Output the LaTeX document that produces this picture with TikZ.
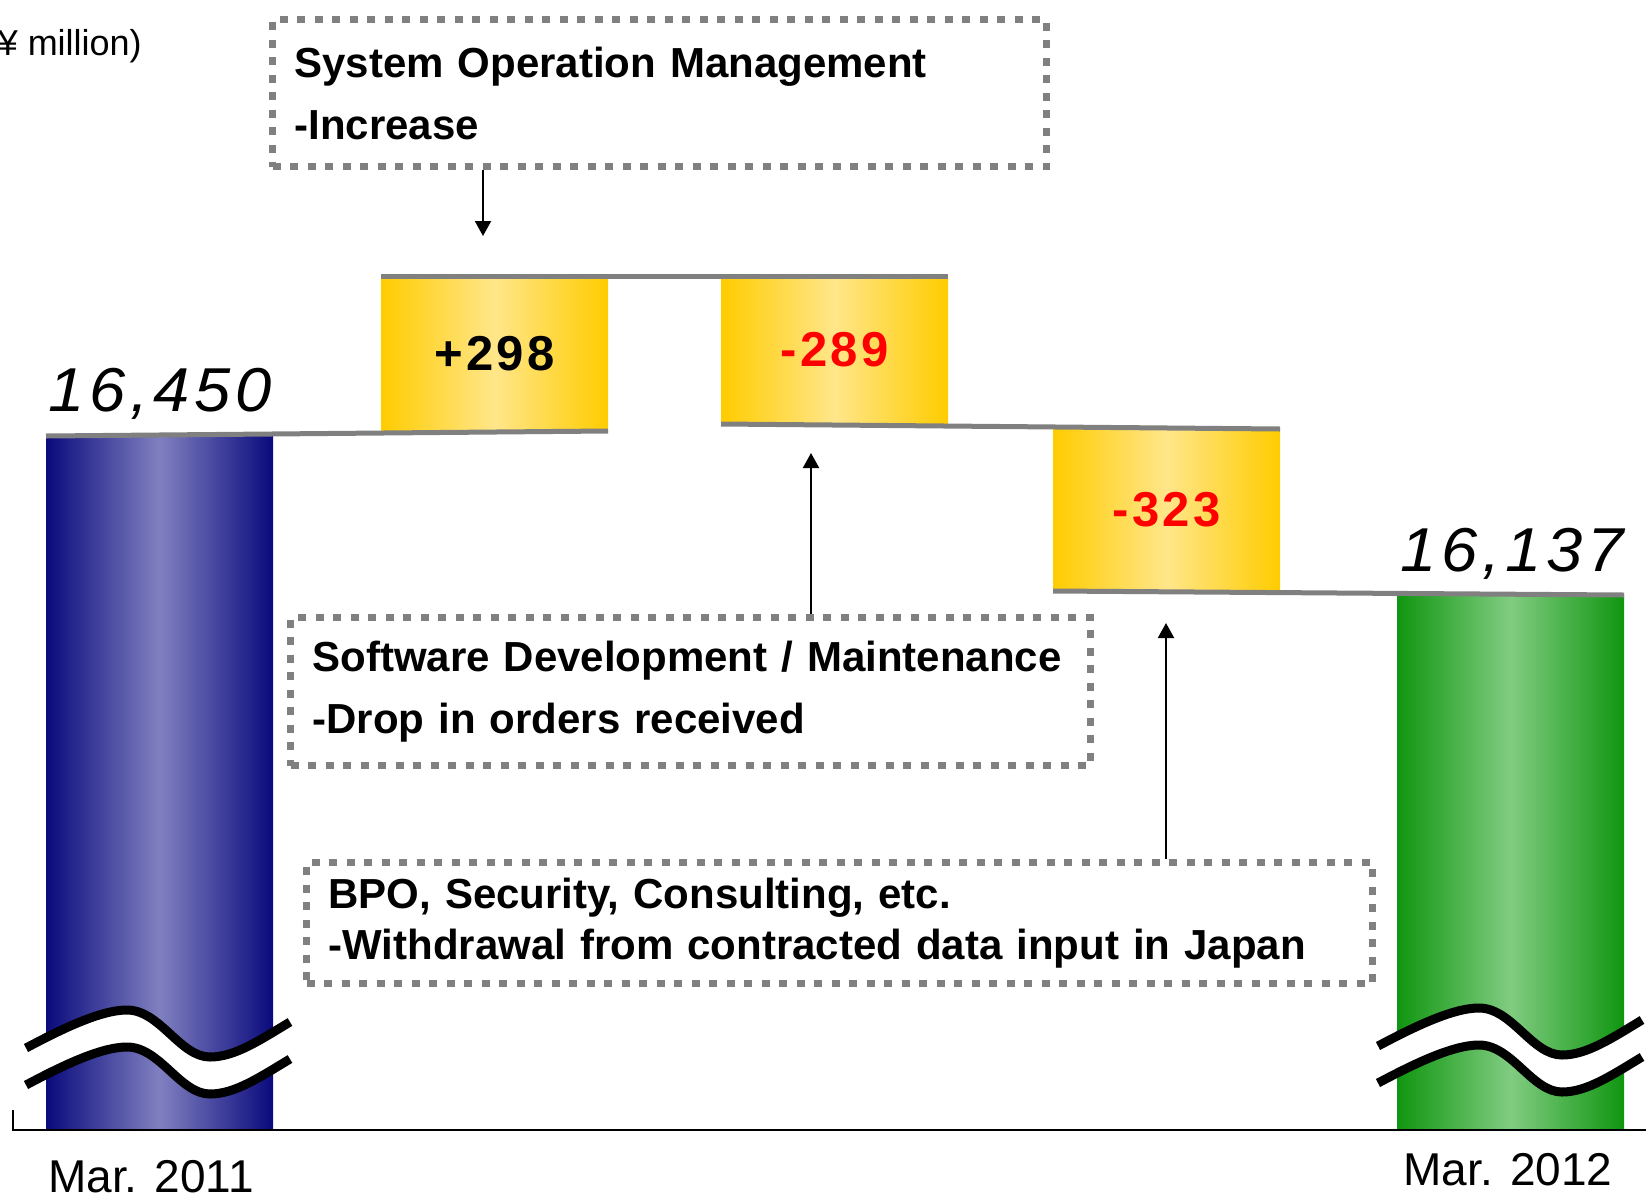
\documentclass[tikz,border=0pt]{standalone}
\usepackage{fontspec}
\setmainfont{Liberation Sans}
\newfontfamily\valfont[FakeStretch=1.05,LetterSpace=8]{Liberation Sans}
\newfontfamily\stepfont[LetterSpace=7]{Liberation Sans}
\usetikzlibrary{arrows.meta}
\definecolor{barblue}{RGB}{10,10,125}
\definecolor{barbluelt}{RGB}{128,128,192}
\definecolor{bargreen}{RGB}{16,150,16}
\definecolor{bargreenlt}{RGB}{128,204,128}
\definecolor{baryel}{RGB}{255,204,0}
\definecolor{baryellt}{RGB}{255,230,138}
\definecolor{lvlgray}{RGB}{128,128,128}
\definecolor{numred}{RGB}{255,0,0}
\begin{document}
\begin{tikzpicture}[x=1pt,y=-1pt,
  bar/.style={minimum width=227pt,inner sep=0pt,outer sep=0pt},
  bluebar/.style={bar,left color=barblue,right color=barblue,middle color=barbluelt},
  greenbar/.style={bar,left color=bargreen,right color=bargreen,middle color=bargreenlt},
  stepbar/.style={bar,left color=baryel,right color=baryel,middle color=baryellt,
    font=\stepfont\bfseries\fontsize{49}{49}\selectfont},
  lvl/.style={draw=lvlgray,line width=5pt},
  notebox/.style={draw=lvlgray,line width=7pt,dash pattern=on 8pt off 9.5pt,
    inner xsep=22pt,inner ysep=0pt,align=left,font=\bfseries\fontsize{42}{62}\selectfont},
  pointer/.style={line width=2pt,-{Triangle[width=16pt,length=15pt]}},
  valtxt/.style={font=\valfont\itshape\fontsize{62}{62}\selectfont},
  datetxt/.style={anchor=base,font=\fontsize{46}{46}\selectfont},
  brk/.pic={
    \fill[white] (0,0) .. controls (34,-18) and (74,-38) .. (101,-38)
      .. controls (134,-38) and (154,9) .. (184,9)
      .. controls (209,9) and (234,-8) .. (264,-26)
      -- (264,11) .. controls (234,29) and (209,46) .. (184,46)
      .. controls (154,46) and (134,-1) .. (101,-1)
      .. controls (74,-1) and (34,19) .. (0,37) -- cycle;
    \foreach \dy in {0,37}
      \draw[line width=9pt,shift={(0,\dy)}] (0,0) .. controls (34,-18) and (74,-38) .. (101,-38)
        .. controls (134,-38) and (154,9) .. (184,9)
        .. controls (209,9) and (234,-8) .. (264,-26);
  }]
  \useasboundingbox (0,0) rectangle (1646,1192);

  % bars
  \node[bluebar,minimum height=693pt] (base1) at (159.5,782.5) {};
  \node[greenbar,minimum height=534pt] (base2) at (1510.5,862) {};
  \node[stepbar,minimum height=155pt] (inc) at (494.5,353.5) {+298};
  \node[stepbar,minimum height=148pt,text=numred] (dec1) at (834.5,350) {-289};
  \node[stepbar,minimum height=162pt,text=numred] (dec2) at (1166.5,510) {-323};

  % level lines
  \draw[lvl] (base1.north west) -- (inc.south east);
  \draw[lvl] (inc.north west) -- (dec1.north east);
  \draw[lvl] (dec1.south west) -- (dec2.north east);
  \draw[lvl] (dec2.south west) -- (base2.north east);

  % axis
  \draw[line width=2pt] (13,1110) -- (13,1130) -- (1646,1130);

  % breaks
  \pic at (26,1048) {brk};
  \pic at (1378,1046) {brk};

  % values and dates
  \node[valtxt] (v1) at (160,394) {16,450};
  \node[valtxt] (v2) at (1512,554) {16,137};
  \node[datetxt] (d1) at (151,1192) {Mar. 2011};
  \node[datetxt] (d2) at (1508,1185) {Mar. 2012};
  \node[anchor=base east,inner sep=0pt,font=\fontsize{36}{36}\selectfont] (unit) at (142,55) {(¥ million)};

  % notes
  \node[notebox,minimum width=774pt,text width=730pt,minimum height=147pt] (sys)
    at (659.5,93) {System Operation Management\\-Increase};
  \node[notebox,minimum width=800pt,text width=756pt,minimum height=148pt] (soft)
    at (690.5,691.5) {Software Development / Maintenance\\-Drop in orders received};
  \node[notebox,minimum width=1066pt,text width=1022pt,minimum height=121pt,
    font=\bfseries\fontsize{42}{51}\selectfont] (bpo)
    at (839.5,923) {BPO, Security, Consulting, etc.\\-Withdrawal from contracted data input in Japan};

  \coordinate (a1) at (483,236);
  \coordinate (a2) at (811,453);
  \coordinate (a3) at (1166,623);
  \draw[pointer] (sys.south -| a1) -- (a1);
  \draw[pointer] (soft.north -| a2) -- (a2);
  \draw[pointer] (bpo.north -| a3) -- (a3);
\end{tikzpicture}
\end{document}
